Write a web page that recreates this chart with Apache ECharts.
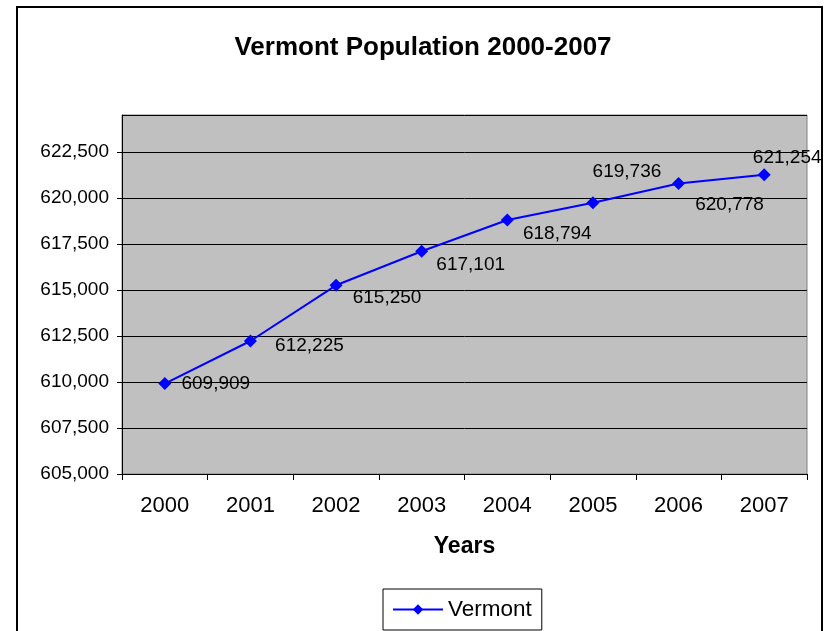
<!DOCTYPE html>
<html>
<head>
<meta charset="utf-8">
<script src="https://cdn.jsdelivr.net/npm/echarts@6/dist/echarts.min.js"></script>
<style>
html,body{margin:0;padding:0;background:#fff;}
#chart{width:827px;height:631px;}
</style>
</head>
<body>
<div id="chart"></div>
<script>
const years = ['2000','2001','2002','2003','2004','2005','2006','2007'];
const vermont = [609909, 612225, 615250, 617101, 618794, 619736, 620778, 621254];
const yMin = 605000;
const yMax = 624500;
const yInterval = 2500;

// label placement (pixel offsets from each marker), styling only
const labelOffsets = [[51,0],[59,5],[51,12],[49,14],[50,14],[34,-31],[51,21],[23,-17]];

const FONT = '"Liberation Sans", Arial, sans-serif';
const chart = echarts.init(document.getElementById('chart'));

const fmt = v => v.toString().replace(/\B(?=(\d{3})+(?!\d))/g, ',');

chart.setOption({
  animation: false,
  backgroundColor: '#fff',
  textStyle: { fontFamily: FONT, color: '#000' },
  title: {
    text: 'Vermont Population 2000-2007',
    left: 418, top: 30, textAlign: 'center',
    textStyle: { fontFamily: FONT, fontSize: 26, fontWeight: 'bold', color: '#000' }
  },
  graphic: [{
    type: 'rect', z: -10, silent: true,
    shape: { x: 17, y: 7, width: 805, height: 640 },
    style: { fill: 'none', stroke: '#000', lineWidth: 2 }
  }],
  grid: {
    left: 122, right: 20, top: 115, bottom: 157,
    show: true, backgroundColor: '#C0C0C0', borderColor: '#808080', borderWidth: 1
  },
  legend: {
    data: ['Vermont'],
    left: 383, top: 589,
    borderColor: '#000', borderWidth: 1,
    padding: [9, 10, 9, 9],
    itemWidth: 50, itemHeight: 13,
    textStyle: { fontFamily: FONT, fontSize: 22.5, color: '#000' }
  },
  xAxis: {
    type: 'category',
    data: years,
    boundaryGap: true,
    name: 'Years',
    nameLocation: 'middle',
    nameGap: 61,
    nameTextStyle: { fontFamily: FONT, fontSize: 23, fontWeight: 'bold', color: '#000' },
    axisLine: { lineStyle: { color: '#000', width: 1 } },
    axisTick: { show: true, length: 6, lineStyle: { color: '#000' } },
    axisLabel: { fontFamily: FONT, fontSize: 22, color: '#000', margin: 21 },
    splitLine: { show: false }
  },
  yAxis: {
    type: 'value',
    min: yMin, max: yMax, interval: yInterval,
    axisLine: { show: true, lineStyle: { color: '#000', width: 1 } },
    axisTick: { show: true, length: 5, lineStyle: { color: '#000' } },
    axisLabel: {
      fontFamily: FONT, fontSize: 19, color: '#000', margin: 13,
      showMaxLabel: false,
      formatter: v => (v % yInterval === 0 ? fmt(v) : '')
    },
    splitLine: { show: true, lineStyle: { color: '#000', width: 1 } }
  },
  series: [{
    name: 'Vermont',
    type: 'line',
    data: vermont.map((v, i) => ({
      value: v,
      label: { offset: labelOffsets[i] }
    })),
    symbol: 'diamond',
    symbolSize: 13,
    itemStyle: { color: '#0000FF' },
    lineStyle: { color: '#0000FF', width: 2 },
    label: {
      show: true,
      position: 'inside',
      align: 'center',
      verticalAlign: 'middle',
      fontFamily: FONT,
      fontSize: 19,
      color: '#000',
      formatter: p => fmt(p.value)
    }
  }]
});
</script>
</body>
</html>
